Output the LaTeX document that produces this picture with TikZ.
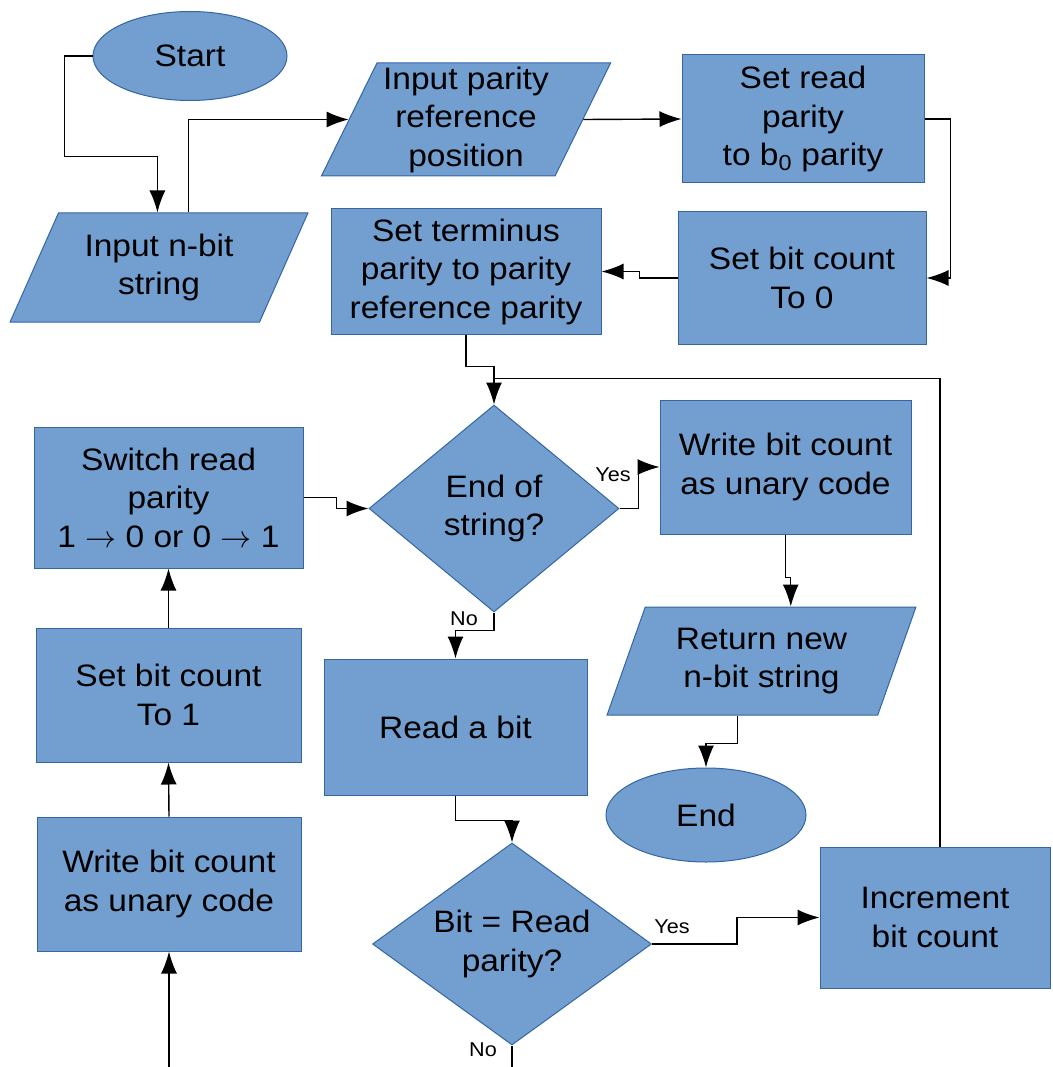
\RequirePackage{fix-cm}
\documentclass[tikz,border=0pt]{standalone}
\usepackage{fontspec}
\setmainfont{Liberation Sans}[FakeStretch=1.08]
\usepackage{tikz}
\usetikzlibrary{shapes}
\usetikzlibrary{arrows.meta,calc}
\definecolor{boxfill}{HTML}{729FCF}
\definecolor{boxline}{HTML}{3465A4}
\tikzstyle{base} = [fill=boxfill, draw=boxline, line width=1pt, inner sep=0pt,
    align=center, font=\fontsize{31}{38.5}\selectfont]
\tikzstyle{block} = [base, rectangle]
\tikzstyle{decision} = [base, diamond]
\tikzstyle{terminal} = [base, ellipse]
\tikzstyle{io} = [base, trapezium, trapezium stretches=true]
\tikzstyle{line} = [draw, line width=1.4pt, -{Latex[length=22pt,width=16pt]}]
\tikzstyle{wire} = [draw, line width=1.4pt]
\tikzstyle{lbl} = [inner sep=0pt, font=\fontsize{20}{24}\selectfont]

\begin{document}
\begin{tikzpicture}[x=1pt, y=-1pt]
        \useasboundingbox (0,0) rectangle (1052,1067);
        \node [terminal, minimum width=194pt, minimum height=89pt] (start) at (190,56) {Start};
        \node [io, trapezium left angle=62, trapezium right angle=118,
            minimum width=298pt, minimum height=109pt] (inbit) at (159,267.5) {Input n-bit\\string};
        \node [io, trapezium left angle=64, trapezium right angle=116,
            minimum width=290pt, minimum height=113pt] (inpar) at (466,119.5) {Input parity\\reference\\position};
        \node [block, minimum width=242pt, minimum height=128pt] (readpar) at (803,119) {Set read\\parity\\to b\textsubscript{0} parity};
        \node [block, minimum width=248pt, minimum height=132pt] (cnt0) at (802,278) {Set bit count\\To 0};
        \node [block, minimum width=270pt, minimum height=125pt] (term) at (466,271.5) {Set terminus\\parity to parity\\reference parity};
        \node [decision, aspect=1.2, minimum width=250pt, minimum height=207pt] (eos) at (494,508.5) {End of\\string?};
        \node [block, minimum width=251pt, minimum height=134pt] (wrR) at (785.5,467) {Write bit count\\as unary code};
        \node [io, trapezium left angle=67, trapezium right angle=113,
            minimum width=309pt, minimum height=108pt] (ret) at (761.5,661) {Return new\\n-bit string};
        \node [terminal, minimum width=200pt, minimum height=94pt] (endn) at (706,815) {End};
        \node [block, minimum width=269pt, minimum height=141pt] (switch) at (168.5,497.5) {Switch read\\parity\\1 $\rightarrow$ 0 or 0 $\rightarrow$ 1};
        \node [block, minimum width=265pt, minimum height=134pt] (cnt1) at (168.5,695) {Set bit count\\To 1};
        \node [block, minimum width=264pt, minimum height=134pt] (wrL) at (169,884) {Write bit count\\as unary code};
        \node [block, minimum width=263pt, minimum height=136pt] (readbit) at (455.5,727) {Read a bit};
        \node [decision, aspect=1.4, minimum width=279pt, minimum height=202pt] (bitq) at (512,944) {Bit = Read\\parity?};
        \node [block, minimum width=230pt, minimum height=141pt] (incr) at (935,917.5) {Increment\\bit count};
        % labels
        \node [lbl] (yes1) at (613,475) {Yes};
        \node [lbl] (no1) at (464,619) {No};
        \node [lbl] (yes2) at (672,927) {Yes};
        \node [lbl] (no2) at (483,1050) {No};
        % loose ends at the bottom
        \coordinate (botL) at (169,1067);
        \coordinate (botR) at (512,1067);
        % edges
        \path [line] (start.west) -- ++(-28,0) |- ($(inbit.top side)+(-26,-56)$) -- ($(inbit.top side)+(-26,0)$);
        \path [line] ($(inbit.top side)+(5,0)$) |- (inpar.left side);
        \path [line] (inpar.right side) -- (readpar.west);
        \path [line] (readpar.east) -- ++(26,0) |- (cnt0.east);
        \path [line] (cnt0.west) -- ++(-38,0) |- (term.east);
        \path [line] (term.south) -- ++(0,32) -| (eos.north);
        \path [wire] ($(incr.north)+(5,0)$) |- ($(eos.north)+(0,-26)$);
        \path [line] (switch.east) -- ++(33,0) |- (eos.west);
        \path [line] (eos.east) -- ++(19,0) |- (wrR.west);
        \path [line] (eos.south) -- ++(0,18) -| (readbit.north);
        \path [line] (wrR.south) -- ++(0,43) -| ($(ret.top side)+(10,0)$);
        \path [line] ($(ret.bottom side)+(-5,0)$) -- ++(0,28) -| (endn.north);
        \path [line] (readbit.south) -- ++(0,25) -| (bitq.north);
        \path [line] (bitq.east) -- ++(85,0) |- (incr.west);
        \path [wire] (bitq.south) -- (botR);
        \path [line] (botL) -- (wrL.south);
        \path [line] (wrL.north) -- (cnt1.south);
        \path [line] (cnt1.north) -- (switch.south);
    \end{tikzpicture}
\end{document}
